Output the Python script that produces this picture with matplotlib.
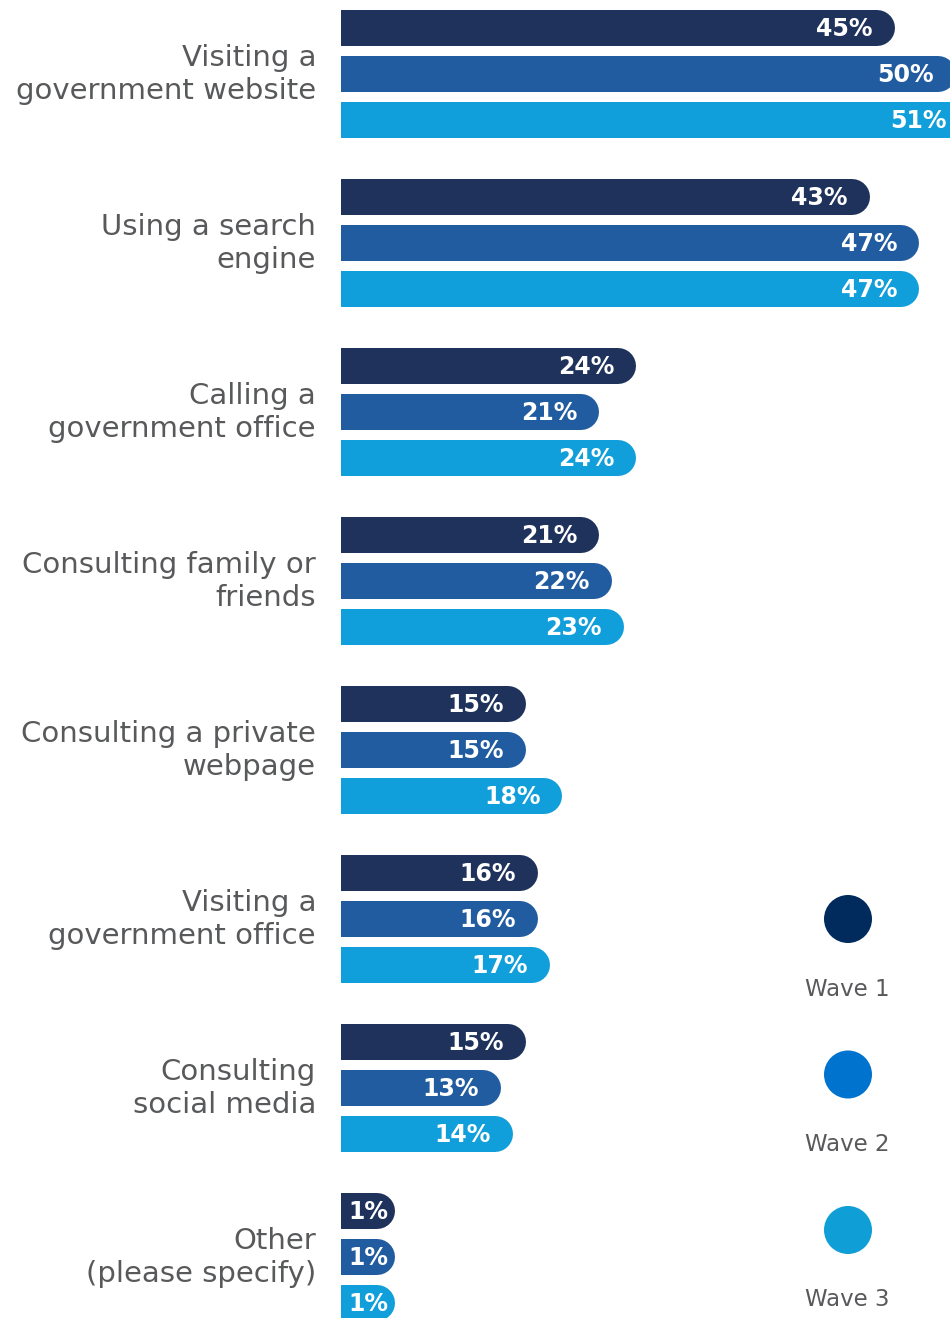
import numpy as np
import matplotlib.pyplot as plt

# survey answers, one list per wave
categories = ['Visiting a\ngovernment website',
              'Using a search\nengine',
              'Calling a\ngovernment office',
              'Consulting family or\nfriends',
              'Consulting a private\nwebpage',
              'Visiting a\ngovernment office',
              'Consulting\nsocial media',
              'Other\n(please specify)']
wave1 = [45, 43, 24, 21, 15, 16, 15, 1]
wave2 = [50, 47, 21, 22, 15, 16, 13, 1]
wave3 = [51, 47, 24, 23, 18, 17, 14, 1]
waves = ['Wave 1', 'Wave 2', 'Wave 3']

bar_colors = ['#1e325c', '#215ca0', '#109fda']
dot_colors = ['#002b5c', '#0073cf', '#0f9fd6']
grey = '#58595b'

W, H = 950, 1318
px_per_pct = 12.3
x0 = 341
fig = plt.figure(figsize=(W / 100, H / 100), dpi=100)
ax = fig.add_axes([x0 / W, 0, (W - x0) / W, 1])
ax.set_xlim(0, (W - x0) / px_per_pct)
pitch = 169.0
ax.set_ylim((H - 74) / pitch, -74 / pitch)
ax.axis('off')

cap = 18 / px_per_pct        # round end radius, in percent units
min_len = 54 / px_per_pct    # short bars still hold their label
offset = 46 / pitch
lw = 36 * 72 / 100

for i, cat in enumerate(categories):
    for j, vals in enumerate([wave1, wave2, wave3]):
        v = vals[i]
        y = i + (j - 1) * offset
        length = max(v, min_len)
        ax.plot([-5, length - cap], [y, y], color=bar_colors[j], lw=lw,
                solid_capstyle='round')
        pad = 22 / px_per_pct if v >= 5 else 7 / px_per_pct
        ax.text(length - pad, y + 0.003, '%d%%' % v, ha='right', va='center',
                color='white', fontsize=17, fontweight='bold')
    ax.text(-25 / px_per_pct, i + 0.005, cat, ha='right', va='center',
            multialignment='right', color=grey, fontsize=21, linespacing=1.24)

# legend on the right
lax = fig.add_axes([0, 0, 1, 1], zorder=-1)
lax.set_xlim(0, W)
lax.set_ylim(H, 0)
lax.axis('off')
for k, name in enumerate(waves):
    cy = 919 + 155.5 * k
    lax.scatter([848], [cy], s=(48 * 0.72) ** 2, color=dot_colors[k],
                edgecolors='none')
    lax.text(847, cy + 70, name, ha='center', va='center', color=grey,
             fontsize=16.5)

plt.savefig('out.png', dpi=100)
plt.close()
